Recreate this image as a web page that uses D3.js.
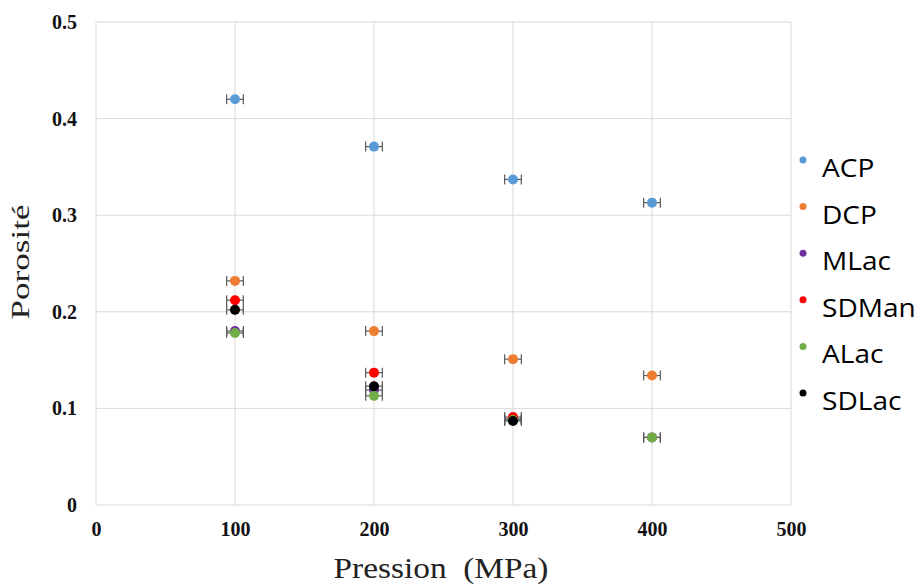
<!DOCTYPE html>
<html><head><meta charset="utf-8">
<script src="https://cdn.jsdelivr.net/npm/d3@7/dist/d3.min.js"></script>
<style>body{margin:0;background:#fff}</style>
</head><body><svg id="c" width="923" height="587"></svg>
<script>
const pressures = [100, 200, 300, 400];
const seriesNames = ["ACP", "DCP", "MLac", "SDMan", "ALac", "SDLac"];
const seriesColors = ["#5B9BD5", "#ED7D31", "#7030A0", "#FF0000", "#70AD47", "#000000"];
const ACP = [0.420, 0.371, 0.337, 0.313];
const DCP = [0.232, 0.180, 0.151, 0.134];
const MLac = [0.180, 0.119, 0.089, 0.070];
const SDMan = [0.212, 0.137, 0.091, null];
const ALac = [0.178, 0.113, 0.088, 0.070];
const SDLac = [0.202, 0.123, 0.087, null];
const xErr = 6;
const xTicks = [0, 100, 200, 300, 400, 500];
const yTicks = [0, 0.1, 0.2, 0.3, 0.4, 0.5];
const values = [ACP, DCP, MLac, SDMan, ALac, SDLac];

const svg = d3.select("#c");
const x = d3.scaleLinear().domain([0, 500]).range([96, 791]);
const y = d3.scaleLinear().domain([0, 0.5]).range([505, 22]);

// gridlines
svg.append("g").selectAll("line").data(yTicks).join("line")
  .attr("x1", x(0)).attr("x2", x(500)).attr("y1", d => y(d)).attr("y2", d => y(d))
  .attr("stroke", "#d9d9d9").attr("stroke-width", 1);
svg.append("g").selectAll("line").data(xTicks).join("line")
  .attr("y1", y(0)).attr("y2", y(0.5)).attr("x1", d => x(d)).attr("x2", d => x(d))
  .attr("stroke", "#d9d9d9").attr("stroke-width", 1);

// axes labels
const xAxis = d3.axisBottom(x).tickValues(xTicks).tickSize(0).tickPadding(0).tickFormat(d3.format("d"));
const gx = svg.append("g").attr("transform", `translate(0,${y(0)})`).call(xAxis);
gx.select(".domain").remove();
gx.selectAll("text").attr("dy", null).attr("y", 31)
  .attr("font-family", "Liberation Serif").attr("font-weight", "bold").attr("font-size", 20).attr("fill", "#111");

const yAxis = d3.axisLeft(y).tickValues(yTicks).tickSize(0).tickPadding(19).tickFormat(d => d === 0 ? "0" : d3.format(".1f")(d));
const gy = svg.append("g").attr("transform", `translate(${x(0)},0)`).call(yAxis);
gy.select(".domain").remove();
gy.selectAll("text").attr("font-family", "Liberation Serif").attr("font-weight", "bold").attr("font-size", 20).attr("fill", "#111");

// axis titles
svg.append("text").attr("transform", "translate(441,578) scale(1.15,1)").attr("text-anchor", "middle")
  .style("white-space", "pre")
  .attr("font-family", "Liberation Serif").attr("font-size", 29).attr("fill", "#222")
  .text("Pression  (MPa)");
svg.append("text").attr("transform", `translate(29,262) rotate(-90)`)
  .attr("text-anchor", "middle")
  .attr("textLength", 115).attr("lengthAdjust", "spacingAndGlyphs")
  .attr("font-family", "Liberation Serif").attr("font-size", 26).attr("fill", "#222")
  .text("Porosité");

// series
seriesNames.forEach((name, i) => {
  const pts = pressures.map((p, j) => ({p, v: values[i][j]})).filter(d => d.v != null);
  const g = svg.append("g");
  const eb = g.selectAll("g.eb").data(pts).join("g").attr("stroke", "#595959").attr("stroke-width", 1.2);
  eb.append("line").attr("x1", d => x(d.p - xErr)).attr("x2", d => x(d.p + xErr)).attr("y1", d => y(d.v)).attr("y2", d => y(d.v));
  eb.append("line").attr("x1", d => x(d.p - xErr)).attr("x2", d => x(d.p - xErr)).attr("y1", d => y(d.v) - 5).attr("y2", d => y(d.v) + 5);
  eb.append("line").attr("x1", d => x(d.p + xErr)).attr("x2", d => x(d.p + xErr)).attr("y1", d => y(d.v) - 5).attr("y2", d => y(d.v) + 5);
  g.selectAll("circle").data(pts).join("circle")
    .attr("cx", d => x(d.p)).attr("cy", d => y(d.v)).attr("r", 5)
    .attr("fill", seriesColors[i]);
});

// legend
const lg = svg.append("g").attr("transform", "translate(803,177)");
seriesNames.forEach((name, i) => {
  const row = lg.append("g").attr("transform", `translate(0,${i * 46.6})`);
  row.append("circle").attr("cx", 0).attr("cy", -17).attr("r", 3.5).attr("fill", seriesColors[i]);
  row.append("text").attr("transform", "translate(19,0) scale(1.08,1)")
    .attr("font-family", "Open Sans").attr("font-size", 26).attr("fill", "#000").text(name);
});
</script></body></html>
